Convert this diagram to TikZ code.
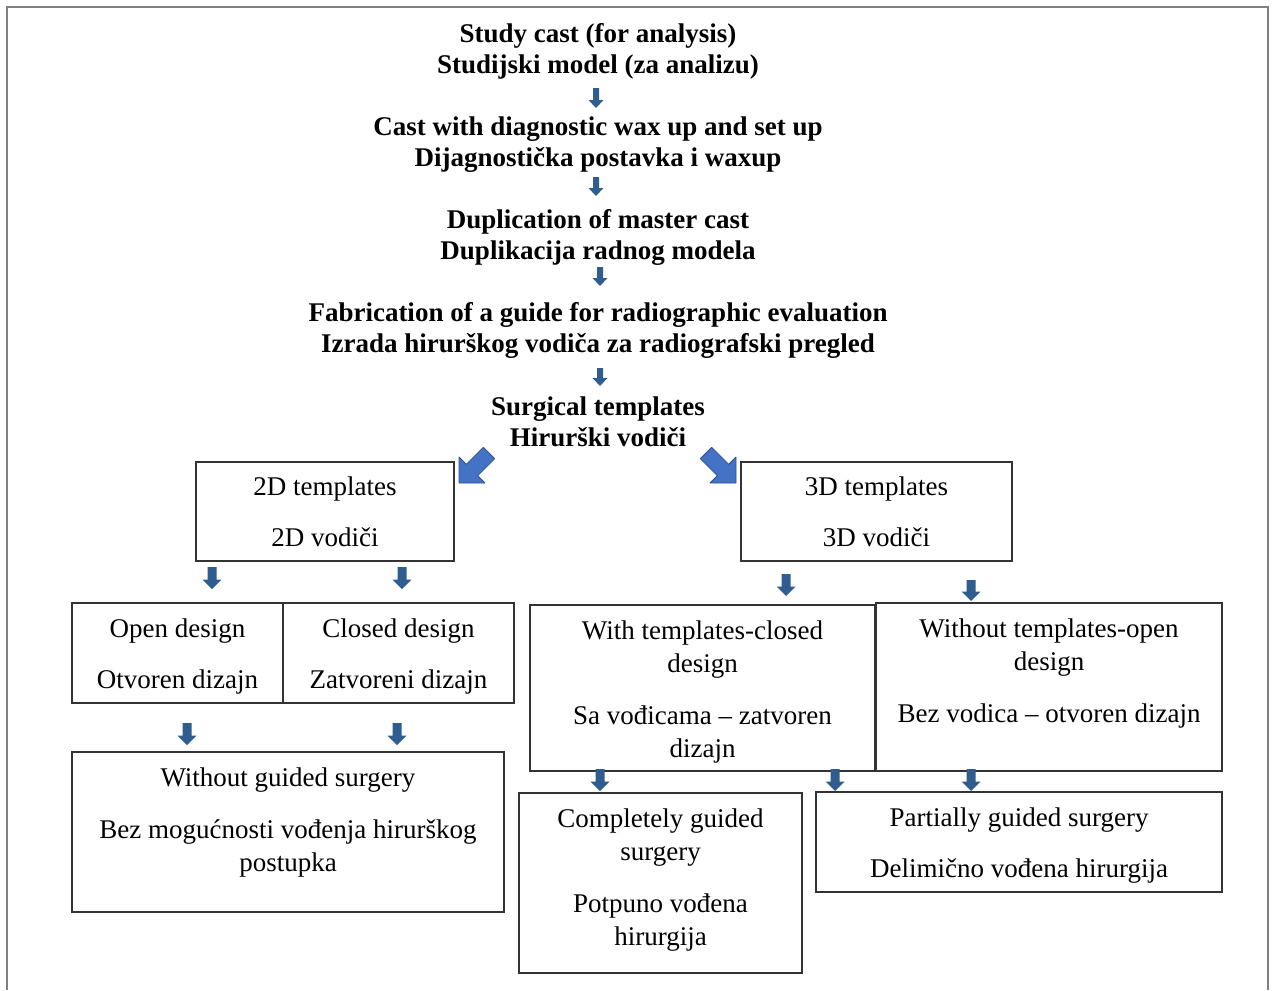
\documentclass[tikz,border=0pt]{standalone}
\usepackage{fontspec}
\setmainfont{Liberation Serif}
\definecolor{arrowblue}{HTML}{2F5D8F}
\definecolor{bigblue}{HTML}{4472C4}
\definecolor{bigline}{HTML}{2F528F}
\definecolor{framegray}{HTML}{808080}
\definecolor{boxline}{HTML}{333333}
\newcommand\dnarrow[6]{%
  \fill[arrowblue] ({#1-#4},#2) -- ({#1+#4},#2) -- ({#1+#4},{#3-#6}) -- ({#1+#5},{#3-#6}) -- (#1,#3) -- ({#1-#5},{#3-#6}) -- ({#1-#4},{#3-#6}) -- cycle;}
\begin{document}
\begin{tikzpicture}[x=1pt,y=-1pt,
  box/.style={draw=boxline, line width=1.5pt, inner sep=0pt},
  bt/.style={font=\fontsize{27}{31}\selectfont\bfseries, inner sep=0pt, anchor=base},
  rt/.style={font=\fontsize{27}{33}\selectfont, inner sep=0pt, anchor=base},
  bigarrow/.style={fill=bigblue, draw=bigline, line width=0.8pt, line join=round}]
\useasboundingbox (0,0) rectangle (1273,990);
\fill[white] (0,0) rectangle (1273,990);
\draw[framegray, line width=2pt] (7,990) -- (7,7) -- (1268,7) -- (1268,990);

% top sequence
\node[bt] (s1a) at (598,43) {Study cast (for analysis)};
\node[bt] (s1b) at (598,74) {Studijski model (za analizu)};
\node[bt] (s2a) at (598,135) {Cast with diagnostic wax up and set up};
\node[bt] (s2b) at (598,166) {Dijagnostička postavka i waxup};
\node[bt] (s3a) at (598,228) {Duplication of master cast};
\node[bt] (s3b) at (598,259) {Duplikacija radnog modela};
\node[bt] (s4a) at (598,321) {Fabrication of a guide for radiographic evaluation};
\node[bt] (s4b) at (598,352) {Izrada hirurškog vodiča za radiografski pregled};
\node[bt] (s5a) at (598,415) {Surgical templates};
\node[bt] (s5b) at (598,446) {Hirurški vodiči};

\dnarrow{596}{88}{108}{3}{7.5}{8}
\dnarrow{596}{177}{196}{3}{7.5}{8}
\dnarrow{600}{267}{286}{3}{7.5}{8}
\dnarrow{600}{368}{386}{3}{7.5}{8}

% big diagonal arrows
\draw[bigarrow] (494.7,458.7) -- (483.3,447.3) -- (466.3,464.3) -- (459,457) -- (459,483) -- (485,483) -- (477.7,475.7) -- cycle;
\draw[bigarrow] (700.3,458.7) -- (711.7,447.3) -- (728.7,464.3) -- (736,457) -- (736,483) -- (710,483) -- (717.3,475.7) -- cycle;

% boxes
\node[box, minimum width=258, minimum height=99] (b2d) at (325,511.5) {};
\node[box, minimum width=271, minimum height=99] (b3d) at (876.5,511.5) {};
\node[box, minimum width=211, minimum height=100] (bopen) at (177.5,653) {};
\node[box, minimum width=231, minimum height=100] (bclosed) at (398.5,653) {};
\node[box, minimum width=345, minimum height=166] (bwith) at (702.5,688) {};
\node[box, minimum width=346, minimum height=168] (bwithout) at (1049,687) {};
\node[box, minimum width=432, minimum height=160] (bnoguide) at (288,832) {};
\node[box, minimum width=283, minimum height=180] (bcomplete) at (660.5,883) {};
\node[box, minimum width=406, minimum height=100] (bpartial) at (1019,842) {};

% box texts
\node[rt] (t2da) at (325,495) {2D templates};
\node[rt] (t2db) at (325,546) {2D vodiči};
\node[rt] (t3da) at (876.5,495) {3D templates};
\node[rt] (t3db) at (876.5,546) {3D vodiči};
\node[rt] (topa) at (177.5,637) {Open design};
\node[rt] (topb) at (177.5,688) {Otvoren dizajn};
\node[rt] (tcla) at (398.5,637) {Closed design};
\node[rt] (tclb) at (398.5,688) {Zatvoreni dizajn};
\node[rt] (twia) at (702.5,639) {With templates-closed};
\node[rt] (twib) at (702.5,672) {design};
\node[rt] (twic) at (702.5,724) {Sa vođicama – zatvoren};
\node[rt] (twid) at (702.5,757) {dizajn};
\node[rt] (twoa) at (1049,637) {Without templates-open};
\node[rt] (twob) at (1049,670) {design};
\node[rt] (twoc) at (1049,722) {Bez vodica – otvoren dizajn};
\node[rt] (tnga) at (288,786) {Without guided surgery};
\node[rt] (tngb) at (288,838) {Bez mogućnosti vođenja hirurškog};
\node[rt] (tngc) at (288,871) {postupka};
\node[rt] (tcga) at (660.5,827) {Completely guided};
\node[rt] (tcgb) at (660.5,860) {surgery};
\node[rt] (tcgc) at (660.5,912) {Potpuno vođena};
\node[rt] (tcgd) at (660.5,945) {hirurgija};
\node[rt] (tpga) at (1019,826) {Partially guided surgery};
\node[rt] (tpgb) at (1019,877) {Delimično vođena hirurgija};

% small arrows
\dnarrow{212}{567}{589}{4.5}{9.5}{9.5}
\dnarrow{402}{567}{589}{4.5}{9.5}{9.5}
\dnarrow{786}{574}{596}{4.5}{9.5}{9.5}
\dnarrow{971}{580}{601}{4.5}{9.5}{9.5}
\dnarrow{187}{723}{745}{4.5}{9.5}{9.5}
\dnarrow{397}{723}{745}{4.5}{9.5}{9.5}
\dnarrow{600}{769}{791}{4.5}{9.5}{9.5}
\dnarrow{835}{769}{791}{4.5}{9.5}{9.5}
\dnarrow{971}{769}{791}{4.5}{9.5}{9.5}
\end{tikzpicture}
\end{document}
